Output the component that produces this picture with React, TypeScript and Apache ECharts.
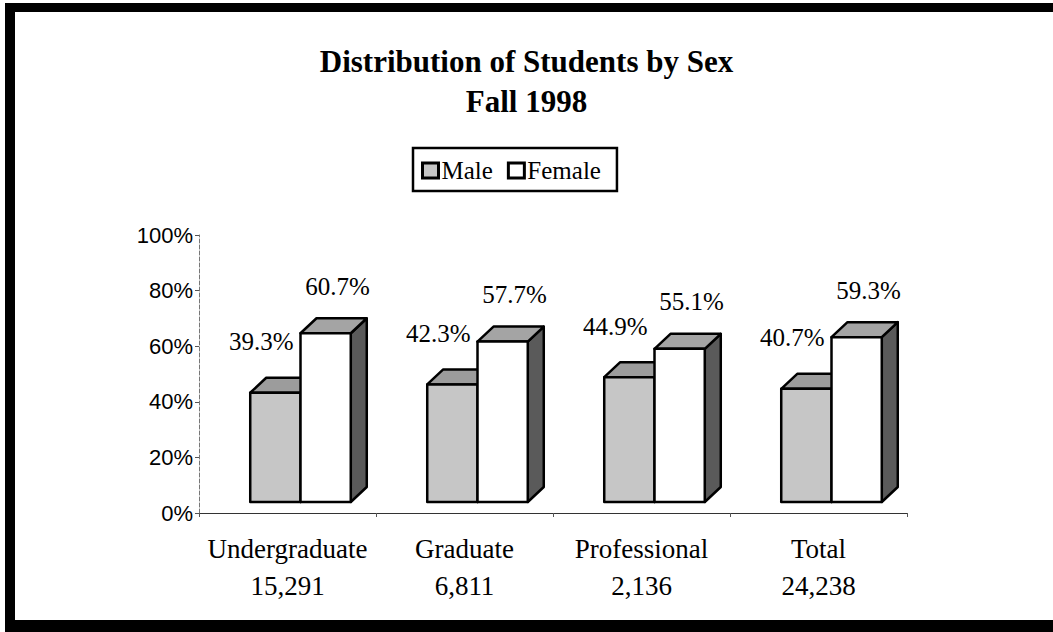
import React, { useEffect, useRef } from "react";
import * as echarts from "echarts";

const categories = ["Undergraduate", "Graduate", "Professional", "Total"];
const headcounts = ["15,291", "6,811", "2,136", "24,238"];
const malePct = [39.3, 42.3, 44.9, 40.7];
const femalePct = [60.7, 57.7, 55.1, 59.3];
const yMin = 0;
const yMax = 100;
const yInterval = 20;

const DEPTH_X = 16;
const DEPTH_Y = -15;
const LIFT = 11;
const SHIFT = 13;
const SERIF = "Liberation Serif";
const SANS = "Liberation Sans";

function make3dBar(isFemale: boolean) {
  const frontFill = isFemale ? "#ffffff" : "#c6c6c6";
  const topFill = isFemale ? "#a4a4a4" : "#9c9c9c";
  const sideFill = isFemale ? "#5a5a5a" : "#666666";
  return (params: any, api: any) => {
    const idx = api.value(0);
    const v = api.value(1);
    const base = api.coord([idx, 0]);
    const top = api.coord([idx, v]);
    const band = api.size([1, 0])[0];
    const w = band * 0.284;
    const cx = base[0] + SHIFT;
    const x0 = isFemale ? cx : cx - w;
    const x1 = x0 + w;
    const yb = base[1] - LIFT;
    const yt = top[1] - LIFT;
    const stroke = { stroke: "#000", lineWidth: 2.5, lineJoin: "round" };
    return {
      type: "group",
      children: [
        {
          type: "polygon",
          shape: {
            points: [
              [x1, yt],
              [x1 + DEPTH_X, yt + DEPTH_Y],
              [x1 + DEPTH_X, yb + DEPTH_Y],
              [x1, yb],
            ],
          },
          style: { fill: sideFill, ...stroke },
        },
        {
          type: "polygon",
          shape: {
            points: [
              [x0, yt],
              [x1, yt],
              [x1 + DEPTH_X, yt + DEPTH_Y],
              [x0 + DEPTH_X, yt + DEPTH_Y],
            ],
          },
          style: { fill: topFill, ...stroke },
        },
        {
          type: "rect",
          shape: { x: x0, y: yt, width: w, height: yb - yt },
          style: { fill: frontFill, ...stroke },
        },
        {
          type: "text",
          x: isFemale ? x0 + w / 2 + 12 : x0 + w / 2 - 14,
          y: isFemale ? yt - 47 : yt - 51,
          style: {
            text: `${Number(v).toFixed(1)}%`,
            fontFamily: SERIF,
            fontSize: 25,
            fill: "#000",
            align: "center",
            verticalAlign: "middle",
          },
        },
      ],
    };
  };
}

export default function App() {
  const ref = useRef<HTMLDivElement>(null);
  useEffect(() => {
    if (!ref.current) return;
    const chart = echarts.init(ref.current, undefined, { renderer: "svg" });
    chart.setOption({
      animation: false,
      backgroundColor: "#ffffff",
      title: {
        text: "Distribution of Students by Sex\nFall 1998",
        left: "center",
        top: 36,
        textStyle: {
          fontFamily: SERIF,
          fontWeight: "bold",
          fontSize: 31,
          lineHeight: 40,
          color: "#000",
        },
      },
      legend: {
        left: 413,
        top: 148,
        orient: "horizontal",
        padding: [10, 16, 8, 8],
        borderColor: "#000",
        borderWidth: 2.5,
        itemWidth: 16,
        itemHeight: 15,
        itemGap: 14,
        textStyle: { fontFamily: SERIF, fontSize: 25, color: "#000", padding: [0, 0, 0, -2] },
        data: [
          {
            name: "Male",
            icon: "rect",
            itemStyle: { color: "#c6c6c6", borderColor: "#000", borderWidth: 3 },
          },
          {
            name: "Female",
            icon: "rect",
            itemStyle: { color: "#ffffff", borderColor: "#000", borderWidth: 3 },
          },
        ],
      },
      grid: { left: 199, top: 235, width: 708, height: 278, containLabel: false },
      xAxis: {
        type: "category",
        data: categories,
        axisLine: { show: true, lineStyle: { color: "#333", width: 1 } },
        axisTick: { show: true, length: 4, lineStyle: { color: "#555" } },
        axisLabel: {
          interval: 0,
          hideOverlap: false,
          margin: 17,
          fontFamily: SERIF,
          fontSize: 27,
          lineHeight: 37,
          color: "#000",
          formatter: (value: string, idx: number) => `${value}\n${headcounts[idx]}`,
        },
        splitLine: { show: false },
      },
      yAxis: {
        type: "value",
        min: yMin,
        max: yMax,
        interval: yInterval,
        axisLine: { show: true, lineStyle: { color: "#777", width: 1, type: "dashed" } },
        axisTick: { show: true, length: 4, lineStyle: { color: "#555" } },
        axisLabel: {
          margin: 6,
          fontFamily: SANS,
          fontSize: 22,
          color: "#000",
          formatter: "{value}%",
        },
        splitLine: { show: false },
      },
      graphic: [
        { type: "rect", shape: { x: 5, y: 3, width: 1048, height: 9 }, style: { fill: "#000" } },
        { type: "rect", shape: { x: 5, y: 3, width: 10, height: 629 }, style: { fill: "#000" } },
        { type: "rect", shape: { x: 5, y: 620, width: 1048, height: 12 }, style: { fill: "#000" } },
      ],
      series: [
        {
          name: "Male",
          type: "custom",
          itemStyle: { color: "#c6c6c6" },
          renderItem: make3dBar(false),
          data: malePct.map((v, i) => [i, v]),
        },
        {
          name: "Female",
          type: "custom",
          itemStyle: { color: "#ffffff" },
          renderItem: make3dBar(true),
          data: femalePct.map((v, i) => [i, v]),
        },
      ],
    });
    return () => chart.dispose();
  }, []);
  return (
    <div
      ref={ref}
      style={{ position: "absolute", left: 0, top: 0, width: 1053, height: 632 }}
    />
  );
}
